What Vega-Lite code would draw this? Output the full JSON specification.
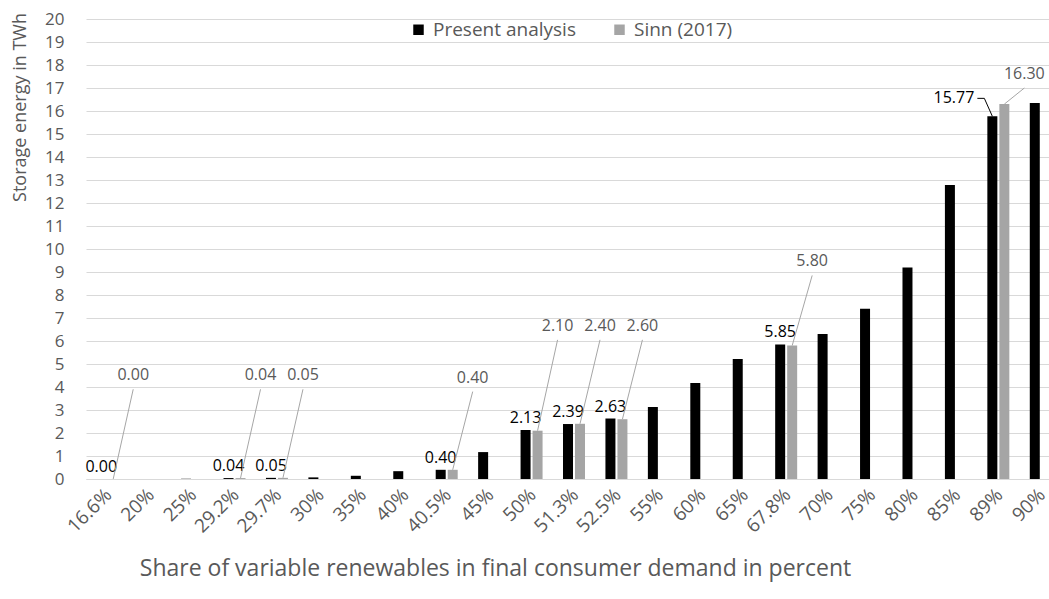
{
  "$schema": "https://vega.github.io/schema/vega-lite/v6.json",
  "width": 976,
  "height": 460,
  "autosize": {"type": "none"},
  "padding": {"left": 86, "top": 19, "right": 0, "bottom": 120},
  "background": "white",
  "config": {
    "font": "Open Sans",
    "view": {"stroke": null},
    "axis": {"labelColor": "#595959", "titleColor": "#595959", "titleFontWeight": "normal"},
    "axisY": {
      "labelOverlap": false,
      "labelFontSize": 17,
      "labelPadding": 22,
      "ticks": false,
      "domain": false,
      "gridColor": "#D9D9D9"
    }
  },
  "data": {
    "values": [
      {"share": "16.6%", "present": 0.0, "sinn": 0.0, "plabel": true, "sinn_label_y": 3.9},
      {"share": "20%", "present": 0.0, "sinn": null, "plabel": false, "sinn_label_y": null},
      {"share": "25%", "present": 0.01, "sinn": null, "plabel": false, "sinn_label_y": null},
      {"share": "29.2%", "present": 0.04, "sinn": 0.04, "plabel": true, "sinn_label_y": 3.9},
      {"share": "29.7%", "present": 0.05, "sinn": 0.05, "plabel": true, "sinn_label_y": 3.9},
      {"share": "30%", "present": 0.07, "sinn": null, "plabel": false, "sinn_label_y": null},
      {"share": "35%", "present": 0.14, "sinn": null, "plabel": false, "sinn_label_y": null},
      {"share": "40%", "present": 0.34, "sinn": null, "plabel": false, "sinn_label_y": null},
      {"share": "40.5%", "present": 0.40, "sinn": 0.40, "plabel": true, "sinn_label_y": 3.8},
      {"share": "45%", "present": 1.17, "sinn": null, "plabel": false, "sinn_label_y": null},
      {"share": "50%", "present": 2.13, "sinn": 2.10, "plabel": true, "sinn_label_y": 6.05},
      {"share": "51.3%", "present": 2.39, "sinn": 2.40, "plabel": true, "sinn_label_y": 6.05},
      {"share": "52.5%", "present": 2.63, "sinn": 2.60, "plabel": true, "sinn_label_y": 6.05},
      {"share": "55%", "present": 3.13, "sinn": null, "plabel": false, "sinn_label_y": null},
      {"share": "60%", "present": 4.17, "sinn": null, "plabel": false, "sinn_label_y": null},
      {"share": "65%", "present": 5.22, "sinn": null, "plabel": false, "sinn_label_y": null},
      {"share": "67.8%", "present": 5.85, "sinn": 5.80, "plabel": true, "sinn_label_y": 8.85},
      {"share": "70%", "present": 6.30, "sinn": null, "plabel": false, "sinn_label_y": null},
      {"share": "75%", "present": 7.40, "sinn": null, "plabel": false, "sinn_label_y": null},
      {"share": "80%", "present": 9.20, "sinn": null, "plabel": false, "sinn_label_y": null},
      {"share": "85%", "present": 12.78, "sinn": null, "plabel": false, "sinn_label_y": null},
      {"share": "89%", "present": 15.77, "sinn": 16.30, "plabel": false, "sinn_label_y": 17.0, "present_label_y": 16.55},
      {"share": "90%", "present": 16.35, "sinn": null, "plabel": false, "sinn_label_y": null}
    ]
  },
  "encoding": {
    "x": {
      "field": "share",
      "type": "nominal",
      "sort": null,
      "scale": {"paddingInner": 0, "paddingOuter": 0},
      "axis": {
        "title": "Share of variable renewables in final consumer demand in percent",
        "titleFontSize": 23,
        "titleX": 409,
        "titleY": 89,
        "titleAlign": "center",
        "titleBaseline": "middle",
        "labelAngle": -45,
        "labelFontSize": 19,
        "labelPadding": 6,
        "labelOffset": -5,
        "labelOverlap": false,
        "ticks": false,
        "domainColor": "#D9D9D9",
        "grid": false
      }
    }
  },
  "layer": [
    {
      "mark": {"type": "bar", "width": 10, "xOffset": -6},
      "encoding": {
        "y": {
          "field": "present",
          "type": "quantitative",
          "scale": {"domain": [0, 20], "nice": false},
          "axis": {"title": "Storage energy in TWh", "titleFontSize": 18, "titleX": -66, "titleY": 88, "titleAngle": -90, "titleAlign": "center", "titleBaseline": "middle", "values": [0,1,2,3,4,5,6,7,8,9,10,11,12,13,14,15,16,17,18,19,20], "tickCount": 40, "format": "d"}
        },
        "color": {
          "datum": "Present analysis",
          "type": "nominal",
          "scale": {"domain": ["Present analysis", "Sinn (2017)"], "range": ["#000000", "#A5A5A5"]},
          "legend": {
            "title": null,
            "orient": "none",
            "direction": "horizontal",
            "legendX": 323,
            "legendY": 1,
            "symbolType": "square",
            "symbolSize": 110,
            "symbolStrokeWidth": 0,
            "labelFontSize": 19,
            "labelColor": "#595959",
            "labelOffset": 5,
            "columnPadding": 34
          }
        }
      }
    },
    {
      "transform": [{"filter": "datum.sinn != null"}],
      "mark": {"type": "bar", "width": 10, "xOffset": 6},
      "encoding": {
        "y": {"field": "sinn", "type": "quantitative"},
        "color": {"datum": "Sinn (2017)", "type": "nominal"}
      }
    },
    {
      "transform": [{"filter": "datum.plabel"}],
      "mark": {"type": "text", "xOffset": -6, "dy": -4, "baseline": "bottom", "fontSize": 16, "color": "#000000"},
      "encoding": {
        "y": {"field": "present", "type": "quantitative"},
        "text": {"field": "present", "type": "quantitative", "format": ".2f"}
      }
    },
    {
      "transform": [{"filter": "datum.sinn != null"}],
      "mark": {"type": "rule", "xOffset": 6, "x2Offset": 26, "color": "#A6A6A6", "strokeWidth": 1},
      "encoding": {
        "x2": {"field": "share"},
        "y": {"field": "sinn", "type": "quantitative"},
        "y2": {"field": "sinn_label_y"}
      }
    },
    {
      "transform": [{"filter": "datum.sinn != null"}],
      "mark": {"type": "text", "xOffset": 26, "dy": -14, "baseline": "middle", "fontSize": 16, "color": "#595959"},
      "encoding": {
        "y": {"field": "sinn_label_y", "type": "quantitative"},
        "text": {"field": "sinn", "type": "quantitative", "format": ".2f"}
      }
    },
    {
      "transform": [{"filter": "datum.present_label_y != null"}],
      "mark": {"type": "rule", "xOffset": -6, "x2Offset": -14, "color": "#000000", "strokeWidth": 1},
      "encoding": {
        "x2": {"field": "share"},
        "y": {"field": "present", "type": "quantitative"},
        "y2": {"field": "present_label_y"}
      }
    },
    {
      "transform": [{"filter": "datum.present_label_y != null"}],
      "mark": {"type": "rule", "xOffset": -14, "x2Offset": -21, "color": "#000000", "strokeWidth": 1},
      "encoding": {
        "x2": {"field": "share"},
        "y": {"field": "present_label_y", "type": "quantitative"}
      }
    },
    {
      "transform": [{"filter": "datum.present_label_y != null"}],
      "mark": {"type": "text", "xOffset": -24, "align": "right", "baseline": "middle", "fontSize": 16, "color": "#000000"},
      "encoding": {
        "y": {"field": "present_label_y", "type": "quantitative"},
        "text": {"field": "present", "type": "quantitative", "format": ".2f"}
      }
    }
  ]
}
